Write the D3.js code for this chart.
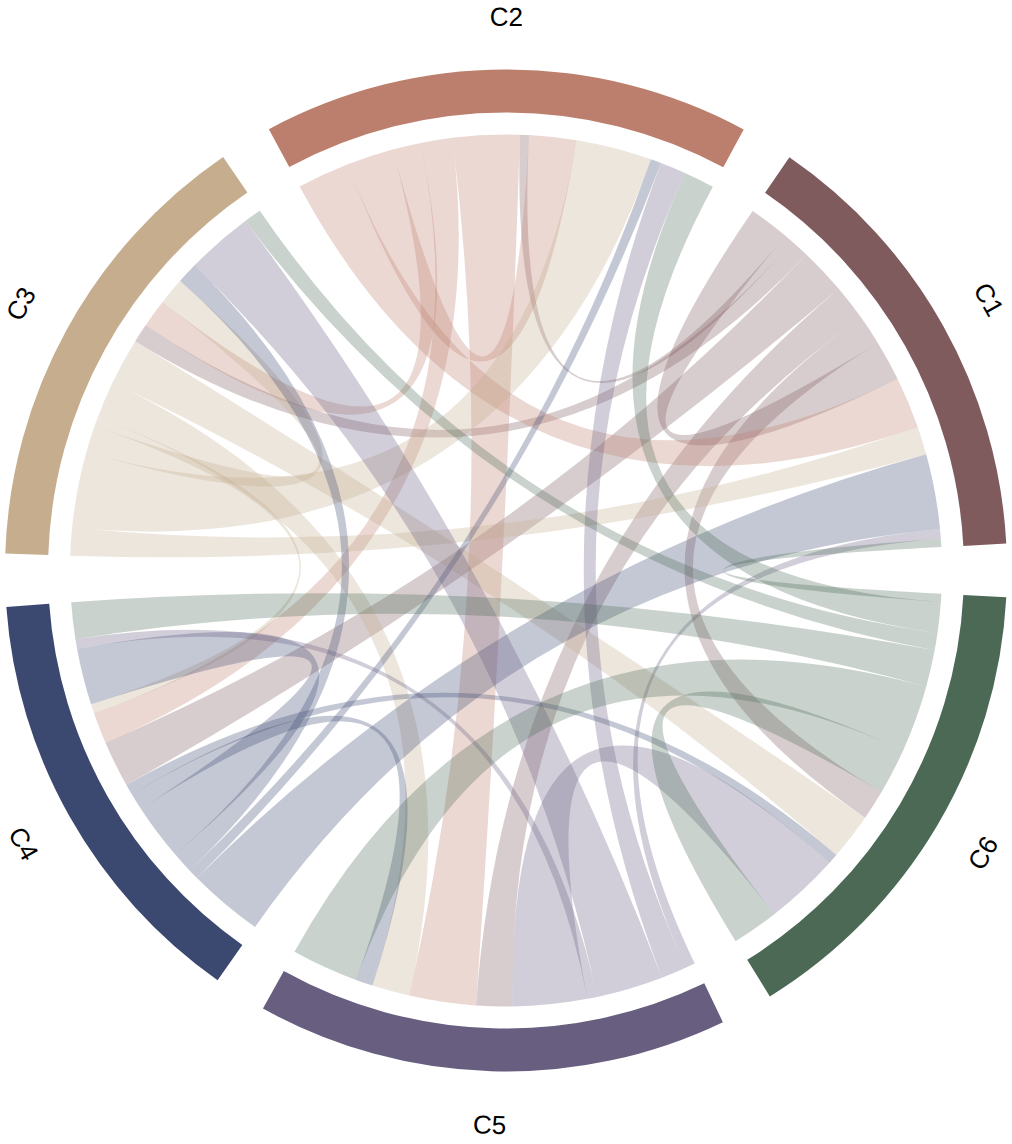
<!DOCTYPE html>
<html>
<head>
<meta charset="utf-8">
<script src="https://cdn.jsdelivr.net/npm/d3@7"></script>
<style>
  body { margin: 0; background: #fff; }
  text { font-family: "Liberation Sans", Arial, sans-serif; }
</style>
</head>
<body>
<div id="chord"></div>
<script>
var svgWidth = 1012;
var svgHeight = 1144;

// group names and colours
var names = ["C1", "C2", "C3", "C4", "C5", "C6"];
var colors = ["#7f5b5e", "#bd7f6d", "#c5ad8e", "#3b4870", "#675e80", "#4b6955"];

// flows, one row per source group (columns = target C1..C6)
var fromC1 = [5.4, 1.2, 2.5, 6.2, 4.8, 4.0];
var fromC2 = [6.9, 6.3, 3.8, 4.2, 8.9, 0];
var fromC3 = [3.7, 10.1, 3.6, 1.2, 5.0, 6.2];
var fromC4 = [10.0, 1.4, 2.8, 7.5, 2.3, 1.4];
var fromC5 = [1.3, 3.4, 8.9, 1.3, 0, 9.9];
var fromC6 = [1.1, 4.1, 2.3, 4.9, 8.9, 6.2];

var matrix = [fromC1, fromC2, fromC3, fromC4, fromC5, fromC6];

// clockwise order of the groups round the circle
var groupOrder = [0, 5, 4, 3, 2, 1];

var cx = 506, cy = 570.5;
var outerRadius = 501;
var innerRadius = 458;
var ribbonRadius = 436;
var labelRadius = 554;

var deg = Math.PI / 180;
var padAngle = 6.13 * deg;
var startAngle = 34.45 * deg;

var n = names.length;
var total = d3.sum(matrix, r => d3.sum(r)) * 2;

var angle = d3.scaleLinear()
    .domain([0, total])
    .range([0, 2 * Math.PI - n * padAngle]);

// layout: each group holds its outgoing flows, then its incoming flows
var groups = [];
var outs = {}, ins = {};
var pos = 0;
groupOrder.forEach(function(g, gi) {
    var off = startAngle + gi * padAngle;
    var g0 = off + angle(pos);
    for (var j = 0; j < n; j++) {
        var v = matrix[g][j];
        outs[g + "-" + j] = {startAngle: off + angle(pos), endAngle: off + angle(pos + v), radius: ribbonRadius};
        pos += v;
    }
    for (var j = 0; j < n; j++) {
        var v = matrix[j][g];
        ins[j + "-" + g] = {startAngle: off + angle(pos), endAngle: off + angle(pos + v), radius: ribbonRadius};
        pos += v;
    }
    groups.push({index: g, startAngle: g0, endAngle: off + angle(pos)});
});

var chords = [];
for (var i = 0; i < n; i++) {
    for (var j = 0; j < n; j++) {
        if (matrix[i][j] > 0) {
            chords.push({source: outs[i + "-" + j], target: ins[i + "-" + j], index: i});
        }
    }
}

var svg = d3.select("#chord")
    .append("svg")
    .attr("width", svgWidth)
    .attr("height", svgHeight);

var chartGroup = svg.append("g")
    .attr("transform", `translate(${cx}, ${cy})`);

var ribbon = d3.ribbon();

chartGroup.append("g")
    .selectAll("path")
    .data(chords)
    .enter()
    .append("path")
    .attr("d", ribbon)
    .attr("fill", d => colors[d.index])
    .attr("fill-opacity", 0.3);

var arc = d3.arc()
    .innerRadius(innerRadius)
    .outerRadius(outerRadius);

chartGroup.append("g")
    .selectAll("path")
    .data(groups)
    .enter()
    .append("path")
    .attr("d", arc)
    .attr("fill", d => colors[d.index]);

// labels, turned along the circle and kept readable
chartGroup.append("g")
    .selectAll("text")
    .data(groups)
    .enter()
    .append("text")
    .attr("transform", function(d) {
        var a = (d.startAngle + d.endAngle) / 2;
        var x = labelRadius * Math.sin(a);
        var y = -labelRadius * Math.cos(a);
        var r = a / deg;
        r = ((r % 360) + 360) % 360;
        if (r > 90 && r < 270) r -= 180;
        return `translate(${x}, ${y}) rotate(${r})`;
    })
    .attr("text-anchor", "middle")
    .attr("dy", "0.36em")
    .attr("font-size", 26)
    .attr("fill", "#000")
    .text(d => names[d.index]);
</script>
</body>
</html>
